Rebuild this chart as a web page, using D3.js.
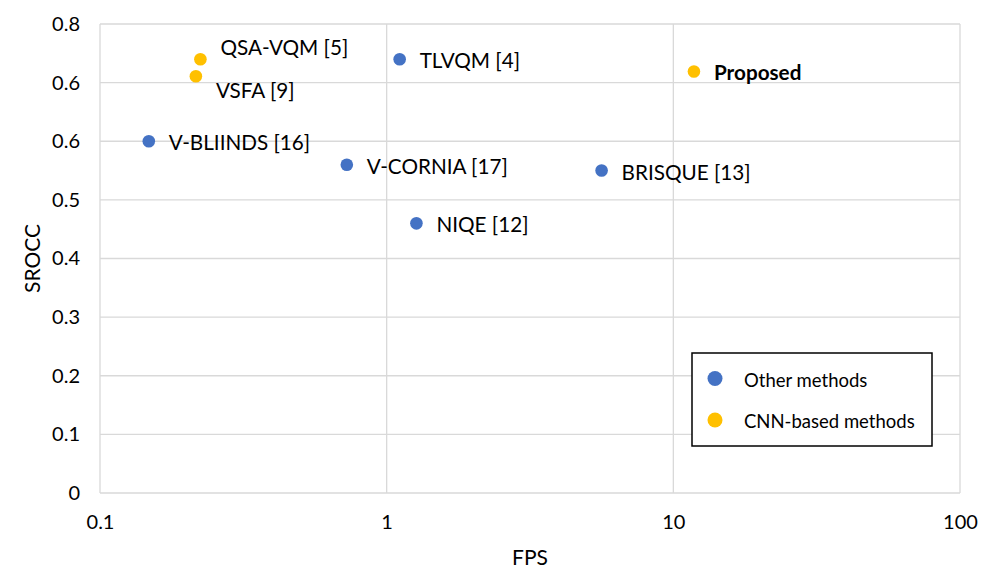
<!DOCTYPE html>
<html>
<head>
<meta charset="utf-8">
<script src="https://cdn.jsdelivr.net/npm/d3@7"></script>
<style>
  body { margin: 0; background: #fff; }
  text { font-family: Lato, "Open Sans", sans-serif; fill: #000; }
</style>
</head>
<body>
<svg id="chart" width="986" height="571"></svg>
<script>
const methods = ["V-BLIINDS [16]", "VSFA [9]", "QSA-VQM [5]", "V-CORNIA [17]", "TLVQM [4]", "NIQE [12]", "BRISQUE [13]", "Proposed"];
const fps =     [0.148, 0.216, 0.224, 0.726, 1.11, 1.27, 5.62, 11.8];
const srocc =   [0.600, 0.711, 0.740, 0.560, 0.740, 0.460, 0.550, 0.719];
const groups =  ["other", "cnn", "cnn", "other", "other", "other", "other", "cnn"];

const xTicks = [0.1, 1, 10, 100];
const xTickLabels = ["0.1", "1", "10", "100"];
const yTicks = [0, 0.1, 0.2, 0.3, 0.4, 0.5, 0.6, 0.7, 0.8];
const yTickLabels = ["0", "0.1", "0.2", "0.3", "0.4", "0.5", "0.6", "0.6", "0.8"];

const legendKeys = ["other", "cnn"];
const legendLabels = ["Other methods", "CNN-based methods"];

const color = { other: "#4472C4", cnn: "#FFC000" };

// label placement tweaks (px), dot -> text
const labelOffset = {
    "QSA-VQM [5]": [20, -12],
    "VSFA [9]": [20, 14]
};

const svg = d3.select("#chart");
const margin = { top: 24, right: 26, bottom: 78, left: 100 };
const width = +svg.attr("width") - margin.left - margin.right;
const height = +svg.attr("height") - margin.top - margin.bottom;

const x = d3.scaleLog().domain([0.1, 100]).range([0, width]);
const y = d3.scaleLinear().domain([0, 0.8]).range([height, 0]);

const g = svg.append("g")
    .attr("transform", `translate(${margin.left},${margin.top})`);

// grid
g.append("g")
    .selectAll("line")
    .data(yTicks)
    .join("line")
    .attr("x1", 0).attr("x2", width)
    .attr("y1", d => y(d)).attr("y2", d => y(d))
    .attr("stroke", "#d9d9d9").attr("stroke-width", 1.3);

g.append("g")
    .selectAll("line")
    .data(xTicks)
    .join("line")
    .attr("x1", d => x(d)).attr("x2", d => x(d))
    .attr("y1", 0).attr("y2", height)
    .attr("stroke", "#d9d9d9").attr("stroke-width", 1.3);

// axes
const yAxis = g.append("g")
    .call(d3.axisLeft(y).tickValues(yTicks).tickSize(0).tickPadding(20)
        .tickFormat((d, i) => yTickLabels[i]));
yAxis.select(".domain").remove();
yAxis.selectAll("text").style("font-size", "20px").style("font-family", "Lato, sans-serif");

const xAxis = g.append("g")
    .attr("transform", `translate(0,${height})`)
    .call(d3.axisBottom(x).tickValues(xTicks).tickSize(0).tickPadding(22)
        .tickFormat((d, i) => xTickLabels[i]));
xAxis.select(".domain").remove();
xAxis.selectAll("text").style("font-size", "20px").style("font-family", "Lato, sans-serif");

// axis titles
g.append("text")
    .attr("transform", `translate(-69,${height / 2}) rotate(-90)`)
    .attr("text-anchor", "middle")
    .attr("dominant-baseline", "central")
    .style("font-size", "21px")
    .text("SROCC");

g.append("text")
    .attr("x", width / 2)
    .attr("y", height + 63)
    .attr("text-anchor", "middle")
    .attr("dominant-baseline", "central")
    .style("font-size", "21px")
    .text("FPS");

// points
const data = methods.map((m, i) => ({ name: m, fps: fps[i], srocc: srocc[i], group: groups[i] }));

g.selectAll("circle.pt")
    .data(data)
    .join("circle")
    .attr("class", "pt")
    .attr("cx", d => x(d.fps))
    .attr("cy", d => y(d.srocc))
    .attr("r", 6.3)
    .attr("fill", d => color[d.group]);

g.selectAll("text.lbl")
    .data(data)
    .join("text")
    .attr("class", "lbl")
    .attr("x", d => x(d.fps) + (labelOffset[d.name] ? labelOffset[d.name][0] : 20))
    .attr("y", d => y(d.srocc) + (labelOffset[d.name] ? labelOffset[d.name][1] : 1))
    .attr("dominant-baseline", "central")
    .style("font-size", "20.7px")
    .style("font-weight", d => d.name === "Proposed" ? "bold" : "normal")
    .text(d => d.name);

// legend
const legend = svg.append("g").attr("transform", "translate(692,353)");
legend.append("rect")
    .attr("width", 240).attr("height", 93)
    .attr("fill", "#fff").attr("stroke", "#000").attr("stroke-width", 1.5);

const items = legend.selectAll("g.item")
    .data(legendKeys)
    .join("g")
    .attr("class", "item")
    .attr("transform", (d, i) => `translate(0,${25.5 + i * 41.5})`);

items.append("circle")
    .attr("cx", 23).attr("cy", 0).attr("r", 7.5)
    .attr("fill", d => color[d]);

items.append("text")
    .attr("x", 52).attr("y", 1)
    .attr("dominant-baseline", "central")
    .style("font-size", "18.5px")
    .text((d, i) => legendLabels[i]);
</script>
</body>
</html>
